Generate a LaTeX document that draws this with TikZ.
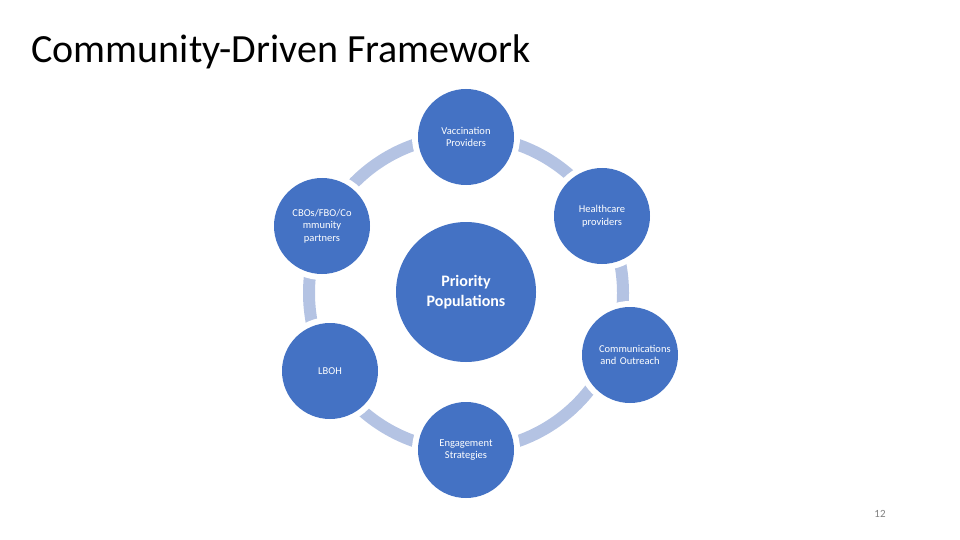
\documentclass[tikz,border=0pt]{standalone}
\usepackage{fontspec}
\setmainfont{Carlito}
\usetikzlibrary{positioning}
\definecolor{ringblue}{HTML}{B4C3E3}
\definecolor{nodeblue}{HTML}{4472C4}
\tikzset{
  stage/.style={circle, fill=nodeblue, minimum size=96pt, inner sep=1pt, text width=62pt, align=center,
    font=\fontsize{10.5}{12.5}\selectfont, text=white, preaction={draw=white, line width=12pt}},
  hub/.style={stage, minimum size=140pt, text width=100pt, font=\fontsize{16}{20}\selectfont\bfseries}
}
\begin{document}
\begin{tikzpicture}[x=1pt, y=-1pt]
  \useasboundingbox (0,0) rectangle (960,540);
  % Title and page number
  \node[anchor=west, font=\fontsize{40}{44}\selectfont] (title) at (28,52) {Community-Driven Framework};
  \node[text=gray, font=\fontsize{11}{13}\selectfont] (page) at (880,514) {12};

  % Ring behind the stages
  \draw[ringblue, line width=12pt] (466,293) circle (157);

  % Stages
  \node[hub] (prio) at (466,292) {Priority\\Populations};
  \node[stage] (vacc) at (466,137) {Vaccination\\Providers};
  \node[stage] (hcare) at (602,216) {Healthcare\\providers};
  \node[stage] (comm) at (630,355) {Communications\\and Outreach};
  \node[stage] (engage) at (466,450) {Engagement\\Strategies};
  \node[stage] (lboh) at (330,371) {LBOH};
  \node[stage] (cbo) at (322,226) {CBOs/FBO/Co\\mmunity\\partners};
\end{tikzpicture}
\end{document}
